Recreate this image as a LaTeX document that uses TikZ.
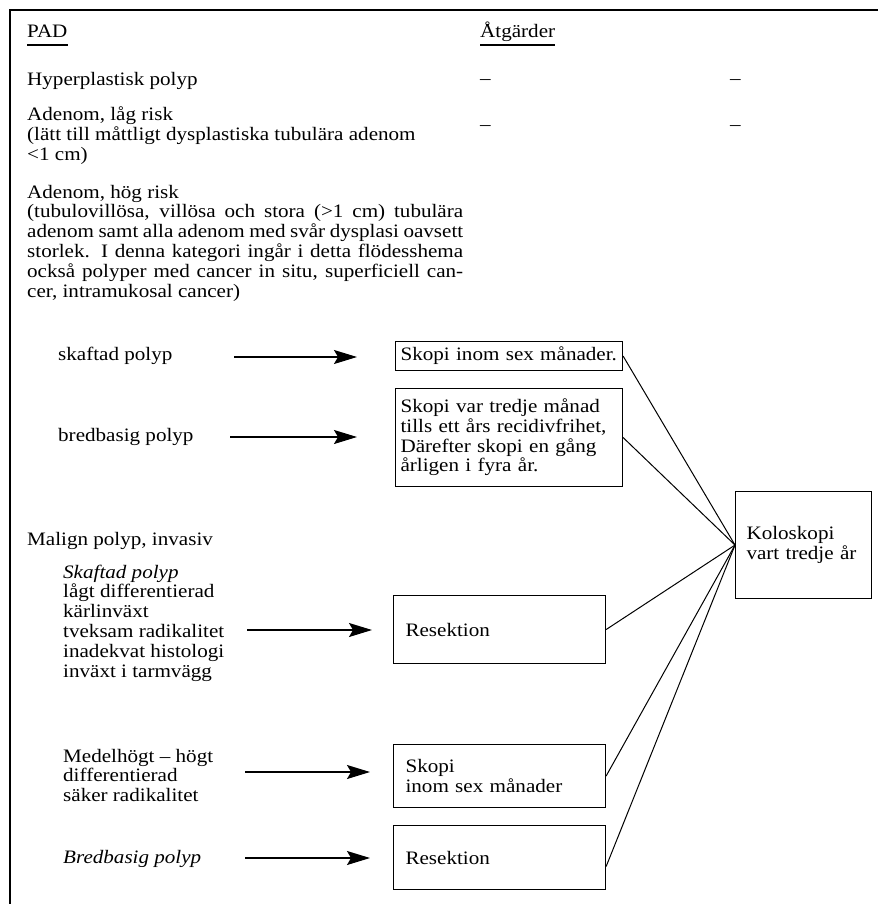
\documentclass[tikz,border=0pt]{standalone}
\usepackage{fontspec}
\setmainfont{Liberation Serif}[FakeStretch=1.11]
\usetikzlibrary{arrows.meta,calc}
\begin{document}
\begin{tikzpicture}[x=1pt,y={(0pt,-1pt)},
  txt/.style={anchor=base west, inner sep=0pt, font=\fontsize{19}{19.8}\selectfont},
  box/.style={draw, line width=1.1pt, anchor=north west, inner ysep=0pt, align=left,
              font=\fontsize{19}{19.6}\selectfont},
  arr/.style={line width=1.3pt, -{Stealth[length=23pt,width=14pt,inset=4pt]}},
  link/.style={line width=1pt},
  uline/.style={line width=1.2pt}]
\useasboundingbox (0,0) rectangle (878,904);
% frame
\draw[line width=1.1pt] (10,904) -- (10,10) -- (878,10);

% headings
\node[txt] (pad) at (27,38) {PAD};
\node[txt] (atg) at (480,38) {Åtgärder};
\draw[uline] ($(pad.base west)+(0,7)$) -- ($(pad.base east)+(0,7)$);
\draw[uline] ($(atg.base west)+(0,7)$) -- ($(atg.base east)+(0,7)$);

% rows
\node[txt] (hyper) at (27,86) {Hyperplastisk polyp};
\node[txt] (d1) at (480,85) {–};
\node[txt] (d2) at (730,85) {–};

\node[txt] (lag) at (27,121) {\parbox[t]{436pt}{\raggedright Adenom, låg risk\\
(lätt till måttligt dysplastiska tubulära adenom\\
<1 cm)}};
\node[txt] (d3) at (480,131) {–};
\node[txt] (d4) at (730,131) {–};

\node[txt] (hog) at (27,198) {\parbox[t]{436pt}{Adenom, hög risk\\
\makebox[436pt][s]{(tubulovillösa, villösa och stora (>1 cm) tubulära}\\
\makebox[436pt][s]{adenom samt alla adenom med svår dysplasi oavsett}\\
\makebox[436pt][s]{storlek. I denna kategori ingår i detta flödesshema}\\
\makebox[436pt][s]{också polyper med cancer in situ, superficiell can-}\\
cer, intramukosal cancer)}};

% high-risk branches
\node[txt] (skl) at (58,360) {skaftad polyp};
\node[txt] (brl) at (58,441) {bredbasig polyp};

\node[box, text width=217pt, inner xsep=5pt, minimum height=29pt] (b1) at (395,341)
  {Skopi inom sex månader.};
\node[box, text width=217pt, inner xsep=5pt, minimum height=98pt] (b2) at (395,388)
  {Skopi var tredje månad\\tills ett års recidivfrihet,\\Därefter skopi en gång\\årligen i fyra år.};

\coordinate (a1) at (234,357);
\coordinate (a2) at (230,437);
\draw[arr, shorten >=38pt] (a1) -- (a1 -| b1.west);
\draw[arr, shorten >=38pt] (a2) -- (a2 -| b2.west);

% malignant
\node[txt] (mal) at (27,545) {Malign polyp, invasiv};
\node[txt] (skg) at (63,578) {\parbox[t]{250pt}{\raggedright \textit{Skaftad polyp}\\
lågt differentierad\\kärlinväxt\\tveksam radikalitet\\inadekvat histologi\\inväxt i tarmvägg}};
\node[txt] (med) at (63,762) {\parbox[t]{250pt}{\raggedright Medelhögt – högt\\differentierad\\säker radikalitet}};
\node[txt] (bbg) at (63,863) {\textit{Bredbasig polyp}};

\node[box, text width=188pt, inner xsep=12pt, minimum height=68pt] (r1) at (393,595) {Resektion};
\node[box, text width=188pt, inner xsep=12pt, minimum height=63pt] (s2) at (393,744) {Skopi\\inom sex månader};
\node[box, text width=188pt, inner xsep=12pt, minimum height=64pt] (r2) at (393,825) {Resektion};

\coordinate (a3) at (247,630);
\coordinate (a4) at (245,772);
\coordinate (a5) at (245,858);
\draw[arr, shorten >=21pt] (a3) -- (a3 -| r1.west);
\draw[arr, shorten >=23pt] (a4) -- (a4 -| s2.west);
\draw[arr, shorten >=23pt] (a5) -- (a5 -| r2.west);

% outcome
\node[box, text width=114pt, inner xsep=11pt, minimum height=107pt] (k) at (735,491)
  {Koloskopi\\vart tredje år};

\draw[link] (b1.east) -- (k.west);
\draw[link] (b2.east) -- (k.west);
\draw[link] (r1.east) -- (k.west);
\draw[link] (s2.east) -- (k.west);
\draw[link] ($(r2.east)+(0,9)$) -- (k.west);
\end{tikzpicture}
\end{document}
